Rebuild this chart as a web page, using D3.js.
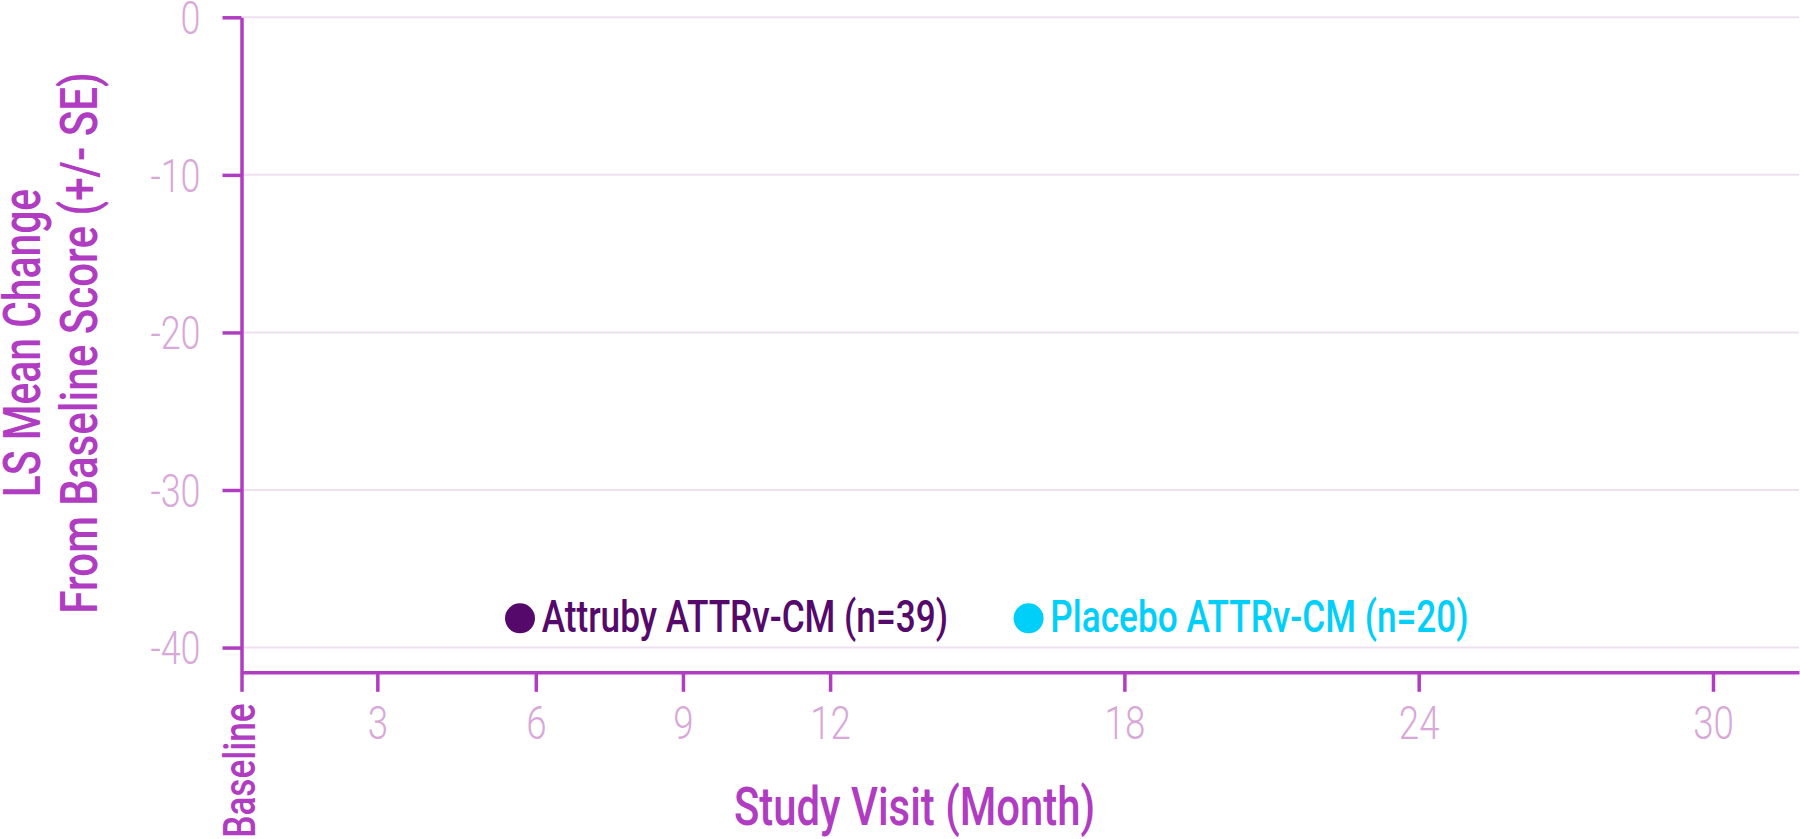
<!DOCTYPE html>
<html><head><meta charset="utf-8">
<script src="https://cdn.jsdelivr.net/npm/d3@7"></script>
<style>html,body{margin:0;padding:0;background:#fff;overflow:hidden}</style>
</head><body><svg id="chart" width="1800" height="839"></svg>
<script>
// ---- data ----
const visitWeeks = [0, 12, 26, 39, 52, 78, 104, 130];
const visitLabels = ["Baseline", "3", "6", "9", "12", "18", "24", "30"];
const yTickValues = [0, -10, -20, -30, -40];
const seriesNames = ["Attruby ATTRv-CM", "Placebo ATTRv-CM"];
const seriesN = [39, 20];
const attrubyMean = [];   // no values are plotted in the reference
const placeboMean = [];
const xTitle = "Study Visit (Month)";
const yTitleLines = ["LS Mean Change", "From Baseline Score (+/- SE)"];

// ---- style ----
const AXIS = "#b03cc2", TICK_TXT = "#d8a8d8", GRID = "#eee0ef";
const seriesColors = ["#55096b", "#00cffa"];
const FONT = "Roboto, 'Noto Sans', sans-serif";

const svg = d3.select("#chart");
const x = d3.scaleLinear().domain([0, 137.6]).range([241.5, 1799]);
const y = d3.scaleLinear().domain([-41.57, 0]).range([672.3, 17.3]);

// grid
svg.append("g").selectAll("line").data(yTickValues).join("line")
  .attr("x1", 243).attr("x2", 1799)
  .attr("y1", d => y(d)).attr("y2", d => y(d))
  .attr("stroke", GRID).attr("stroke-width", 2);

// series (empty in reference)
const line = d3.line().x(d => x(d.week)).y(d => y(d.value));
[attrubyMean, placeboMean].forEach((s, i) => {
  if (s.length) svg.append("path").datum(s).attr("d", line)
    .attr("fill", "none").attr("stroke", seriesColors[i]).attr("stroke-width", 3);
});

// y axis
const yAxis = svg.append("g").attr("transform", "translate(241.5,0)")
  .call(d3.axisLeft(y).tickValues(yTickValues).tickSize(19).tickSizeOuter(0).tickFormat(d3.format("d")));
yAxis.select(".domain").attr("stroke", AXIS).attr("stroke-width", 3.5);
yAxis.selectAll(".tick line").attr("stroke", AXIS).attr("stroke-width", 3.5);
yAxis.selectAll(".tick text")
  .attr("x", null).attr("dy", "0.355em")
  .attr("transform", "translate(-41,0) scale(0.78,1)")
  .attr("text-anchor", "end")
  .style("font-family", FONT).style("font-weight", 300).style("font-size", "46px")
  .attr("fill", TICK_TXT)
  .text(d => d === 0 ? "0" : "-" + Math.abs(d));

// x axis
const xAxis = svg.append("g").attr("transform", "translate(0,672.3)")
  .call(d3.axisBottom(x).tickValues(visitWeeks).tickSize(19.5).tickSizeOuter(0)
    .tickFormat((d, i) => visitLabels[i]));
xAxis.select(".domain").attr("stroke", AXIS).attr("stroke-width", 3.5);
xAxis.selectAll(".tick line").attr("stroke", AXIS).attr("stroke-width", 3.5);
xAxis.selectAll(".tick text")
  .attr("y", null).attr("dy", null)
  .attr("text-anchor", "middle")
  .attr("transform", "translate(0,67) scale(0.78,1)")
  .style("font-family", FONT).style("font-weight", 300).style("font-size", "47px")
  .attr("fill", TICK_TXT);
xAxis.selectAll(".tick text").filter((d, i) => i === 0)
  .attr("text-anchor", "end")
  .attr("transform", "translate(13,31) rotate(-90) scale(0.8,1)")
  .style("font-weight", 500).style("font-size", "44px")
  .attr("fill", AXIS);

// axis titles
svg.append("text").text(xTitle)
  .attr("transform", "translate(914.5,825) scale(0.775,1)")
  .attr("text-anchor", "middle")
  .style("font-family", FONT).style("font-weight", 500).style("font-size", "54px")
  .attr("fill", AXIS);

const yt = svg.append("g").attr("transform", "translate(0,343) rotate(-90)");
yt.selectAll("text").data(yTitleLines).join("text")
  .attr("transform", (d, i) => `translate(0,${i === 0 ? 40 : 97}) scale(${i === 0 ? 0.785 : 0.81},1)`)
  .attr("text-anchor", "middle")
  .style("font-family", FONT).style("font-weight", 500).style("font-size", "52px")
  .attr("fill", AXIS)
  .text(d => d);

// legend
const legendX = [520, 1028.6];
const lg = svg.append("g").selectAll("g").data(seriesNames).join("g")
  .attr("transform", (d, i) => `translate(${legendX[i]},618.3)`);
lg.append("circle").attr("r", 15).attr("fill", (d, i) => seriesColors[i]);
lg.append("text")
  .attr("transform", "translate(21.7,14) scale(0.8,1)")
  .style("font-family", FONT).style("font-weight", 500).style("font-size", "44px")
  .attr("fill", (d, i) => seriesColors[i])
  .text((d, i) => `${d} (n=${seriesN[i]})`);
</script>
</body></html>
